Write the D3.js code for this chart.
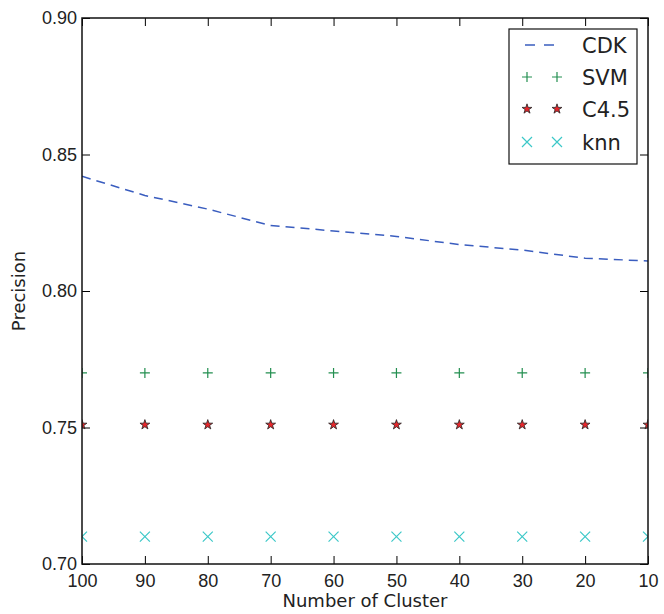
<!DOCTYPE html>
<html>
<head>
<meta charset="utf-8">
<script src="https://cdn.jsdelivr.net/npm/d3@7"></script>
<style>
  body { margin: 0; background: #fff; }
  svg { font-family: 'DejaVu Sans', sans-serif; }
</style>
</head>
<body>
<svg id="chart" width="664" height="614"></svg>
<script>
const clusters = [100, 90, 80, 70, 60, 50, 40, 30, 20, 10];
const cdk = [0.842, 0.835, 0.830, 0.824, 0.822, 0.820, 0.817, 0.815, 0.812, 0.811];
const svmVals = [0.77, 0.77, 0.77, 0.77, 0.77, 0.77, 0.77, 0.77, 0.77, 0.77];
const c45 = [0.751, 0.751, 0.751, 0.751, 0.751, 0.751, 0.751, 0.751, 0.751, 0.751];
const knn = [0.71, 0.71, 0.71, 0.71, 0.71, 0.71, 0.71, 0.71, 0.71, 0.71];
const xTicks = [100, 90, 80, 70, 60, 50, 40, 30, 20, 10];
const yTicks = [0.70, 0.75, 0.80, 0.85, 0.90];

const margin = { top: 18, right: 16, bottom: 50, left: 82 };
const width = 664;
const height = 614;
const plotWidth = width - margin.left - margin.right;
const plotHeight = height - margin.top - margin.bottom;

const blue = '#3a5dbf';
const green = '#238f50';
const red = '#e8262b';
const cyan = '#3cc8c8';

const svg = d3.select('#chart');
const chart = svg.append('g').attr('transform', `translate(${margin.left},${margin.top})`);

const x = d3.scaleLinear().domain([100, 10]).range([0, plotWidth]);
const y = d3.scaleLinear().domain([0.70, 0.90]).range([plotHeight, 0]);

svg.append('defs').append('clipPath').attr('id', 'clip')
  .append('rect').attr('width', plotWidth).attr('height', plotHeight);

// axes with inward ticks on all sides
const tickLen = 8;
const styleAxis = (g) => {
  g.select('.domain').remove();
  g.selectAll('.tick line').attr('stroke', '#000').attr('stroke-width', 1);
  g.selectAll('.tick text').attr('fill', '#222').style('font-size', '18px');
};

chart.append('g').attr('transform', `translate(0,${plotHeight})`)
  .call(d3.axisBottom(x).tickValues(xTicks).tickSize(-tickLen).tickPadding(6).tickFormat(d3.format('d')))
  .call(styleAxis)
  .call((g) => g.selectAll('.tick text').attr('dy', '0.95em'));

chart.append('g')
  .call(d3.axisTop(x).tickValues(xTicks).tickSize(-tickLen).tickFormat(''))
  .call(styleAxis);

chart.append('g')
  .call(d3.axisLeft(y).tickValues(yTicks).tickSize(-tickLen).tickPadding(5).tickFormat(d3.format('.2f')))
  .call(styleAxis);

chart.append('g').attr('transform', `translate(${plotWidth},0)`)
  .call(d3.axisRight(y).tickValues(yTicks).tickSize(-tickLen).tickFormat(''))
  .call(styleAxis);

const plot = chart.append('g').attr('clip-path', 'url(#clip)');

// CDK dashed line
plot.append('path')
  .datum(clusters.map((c, i) => [c, cdk[i]]))
  .attr('fill', 'none')
  .attr('stroke', blue)
  .attr('stroke-width', 1.5)
  .attr('stroke-dasharray', '9,6')
  .attr('d', d3.line().x((d) => x(d[0])).y((d) => y(d[1])));

const plusPath = 'M-5,0H5M0,-5V5';
const crossPath = 'M-5,-5L5,5M-5,5L5,-5';
const starPath = d3.symbol(d3.symbolStar, 30)();

const drawMarkers = (g, vals, draw) => {
  g.selectAll('path')
    .data(clusters.map((c, i) => [c, vals[i]]))
    .join('path')
    .attr('transform', (d) => `translate(${x(d[0])},${y(d[1])})`)
    .call(draw);
};

plot.append('g').call((g) => drawMarkers(g, svmVals, (p) =>
  p.attr('d', plusPath).attr('stroke', green).attr('stroke-width', 1.2).attr('fill', 'none')));
plot.append('g').call((g) => drawMarkers(g, c45, (p) =>
  p.attr('d', starPath).attr('fill', red).attr('stroke', '#222').attr('stroke-width', 0.8)));
plot.append('g').call((g) => drawMarkers(g, knn, (p) =>
  p.attr('d', crossPath).attr('stroke', cyan).attr('stroke-width', 1.2).attr('fill', 'none')));

// frame
chart.append('rect')
  .attr('width', plotWidth).attr('height', plotHeight)
  .attr('fill', 'none').attr('stroke', '#111').attr('stroke-width', 1.5);

// axis labels
svg.append('text')
  .attr('x', margin.left + plotWidth / 2).attr('y', 607)
  .attr('text-anchor', 'middle').attr('fill', '#222').style('font-size', '18px')
  .text('Number of Cluster');

svg.append('text')
  .attr('transform', `translate(25,${margin.top + plotHeight / 2}) rotate(-90)`)
  .attr('text-anchor', 'middle').attr('fill', '#222').style('font-size', '18px')
  .text('Precision');

// legend
const legendItems = [
  { label: 'CDK', kind: 'line' },
  { label: 'SVM', kind: 'plus' },
  { label: 'C4.5', kind: 'star' },
  { label: 'knn', kind: 'cross' },
];

const legend = svg.append('g').attr('transform', 'translate(509,29)');
legend.append('rect')
  .attr('width', 128).attr('height', 135)
  .attr('fill', '#fff').attr('stroke', '#111').attr('stroke-width', 1.2);

const rowY = [16, 48, 80, 113];
legendItems.forEach((item, i) => {
  const row = legend.append('g').attr('transform', `translate(0,${rowY[i]})`);
  if (item.kind === 'line') {
    row.append('line').attr('x1', 16).attr('x2', 45)
      .attr('stroke', blue).attr('stroke-width', 1.5).attr('stroke-dasharray', '10,9');
  } else {
    [18, 48].forEach((mx) => {
      const p = row.append('path').attr('transform', `translate(${mx},0)`);
      if (item.kind === 'plus') p.attr('d', plusPath).attr('stroke', green).attr('stroke-width', 1.2);
      if (item.kind === 'star') p.attr('d', starPath).attr('fill', red).attr('stroke', '#222').attr('stroke-width', 0.8);
      if (item.kind === 'cross') p.attr('d', crossPath).attr('stroke', cyan).attr('stroke-width', 1.2);
    });
  }
  row.append('text').attr('x', 73).attr('dy', '0.36em')
    .attr('fill', '#222').style('font-size', '21px').text(item.label);
});
</script>
</body>
</html>
